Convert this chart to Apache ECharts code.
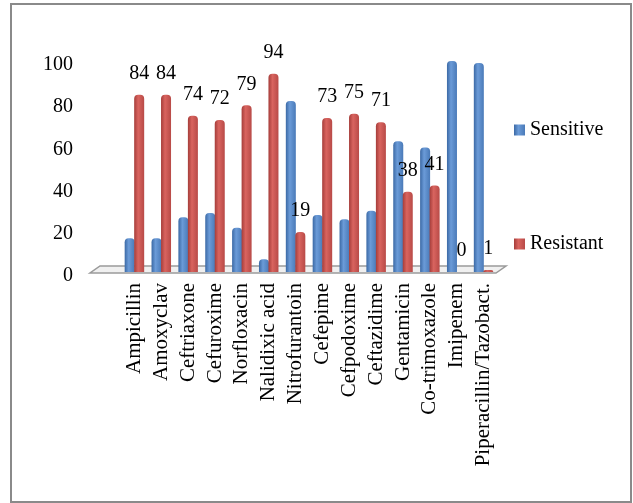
<!DOCTYPE html>
<html>
<head>
<meta charset="utf-8">
<style>
  html, body { margin: 0; padding: 0; background: #fff; }
  #chart { width: 633px; height: 503px; }
</style>
<script src="https://cdn.jsdelivr.net/npm/echarts@6/dist/echarts.min.js"></script>
</head>
<body>
<div id="chart"></div>
<script>
// Antibiotic susceptibility (%) per drug
const categories = [
  'Ampicillin', 'Amoxyclav', 'Ceftriaxone', 'Cefuroxime', 'Norfloxacin',
  'Nalidixic acid', 'Nitrofurantoin', 'Cefepime', 'Cefpodoxime', 'Ceftazidime',
  'Gentamicin', 'Co-trimoxazole', 'Imipenem', 'Piperacillin/Tazobact.'
];
const sensitive = [16, 16, 26, 28, 21, 6, 81, 27, 25, 29, 62, 59, 100, 99];
const resistant = [84, 84, 74, 72, 79, 94, 19, 73, 75, 71, 38, 41, 0, 1];
const yTicks = [0, 20, 40, 60, 80, 100];

const SERIF = 'Liberation Serif, Times New Roman, serif';

function cylinder(base, light, dark) {
  return new echarts.graphic.LinearGradient(0, 0, 1, 0, [
    { offset: 0, color: dark },
    { offset: 0.4, color: light },
    { offset: 1, color: base }
  ]);
}

const chart = echarts.init(document.getElementById('chart'), null, { renderer: 'canvas' });

chart.setOption({
  animation: false,
  backgroundColor: '#ffffff',
  graphic: [{
    type: 'rect',
    shape: { x: 11, y: 4, width: 620, height: 498 },
    style: { fill: 'none', stroke: '#8a8a8a', lineWidth: 2 },
    silent: true,
    z: 100
  }],
  grid: { left: 121, right: 136, top: 61, bottom: 231 },
  legend: {
    orient: 'vertical',
    left: 509,
    top: 115,
    itemWidth: 11,
    itemHeight: 11,
    itemGap: 94,
    icon: 'rect',
    textStyle: { fontFamily: SERIF, fontSize: 20, color: '#000' },
    data: ['Sensitive', 'Resistant']
  },
  xAxis: {
    type: 'category',
    data: categories,
    axisLine: { show: false },
    axisTick: { show: false },
    axisLabel: {
      rotate: 90,
      interval: 0,
      margin: 11,
      fontFamily: SERIF,
      fontSize: 21,
      color: '#000'
    }
  },
  yAxis: {
    type: 'value',
    min: yTicks[0],
    max: yTicks[yTicks.length - 1],
    interval: 20,
    splitLine: { show: false },
    axisLine: { show: false },
    axisTick: { show: false },
    axisLabel: {
      margin: 48,
      formatter: function (v) { return '{t|' + v + '}'; },
      rich: {
        t: {
          padding: [8, 0, 0, 0],
          fontFamily: SERIF,
          fontSize: 20,
          color: '#000'
        }
      }
    }
  },
  series: [
    {
      // floor slab under the bars
      type: 'custom',
      silent: true,
      z: 1,
      data: [[0, 0]],
      renderItem: function (params, api) {
        const first = api.coord([0, 0]);
        const last = api.coord([categories.length - 1, 0]);
        const band = api.size([1, 0])[0];
        const fl = first[0] - band / 2 - 31;
        const fr = last[0] + band / 2 - 1;
        const y = first[1] + 1;
        return {
          type: 'polygon',
          shape: { points: [[fl, y], [fr, y], [fr + 10, y - 7], [fl + 10, y - 7]] },
          style: { fill: '#f0f0f0', stroke: '#9a9a9a', lineWidth: 1.5 }
        };
      }
    },
    {
      name: 'Sensitive',
      type: 'bar',
      barWidth: 10,
      barGap: '-5%',
      z: 2,
      data: sensitive,
      itemStyle: {
        color: cylinder('#4a7ab8', '#6b9bd8', '#3b69a5'),
        borderRadius: [4, 4, 0, 0]
      }
    },
    {
      name: 'Resistant',
      type: 'bar',
      barWidth: 10,
      z: 2,
      data: resistant,
      itemStyle: {
        color: cylinder('#b84a47', '#d9645f', '#a53d3a'),
        borderRadius: [4, 4, 0, 0]
      },
      label: {
        show: true,
        position: 'top',
        distance: 11,
        fontFamily: SERIF,
        fontSize: 20,
        color: '#000'
      }
    }
  ]
});
</script>
</body>
</html>
